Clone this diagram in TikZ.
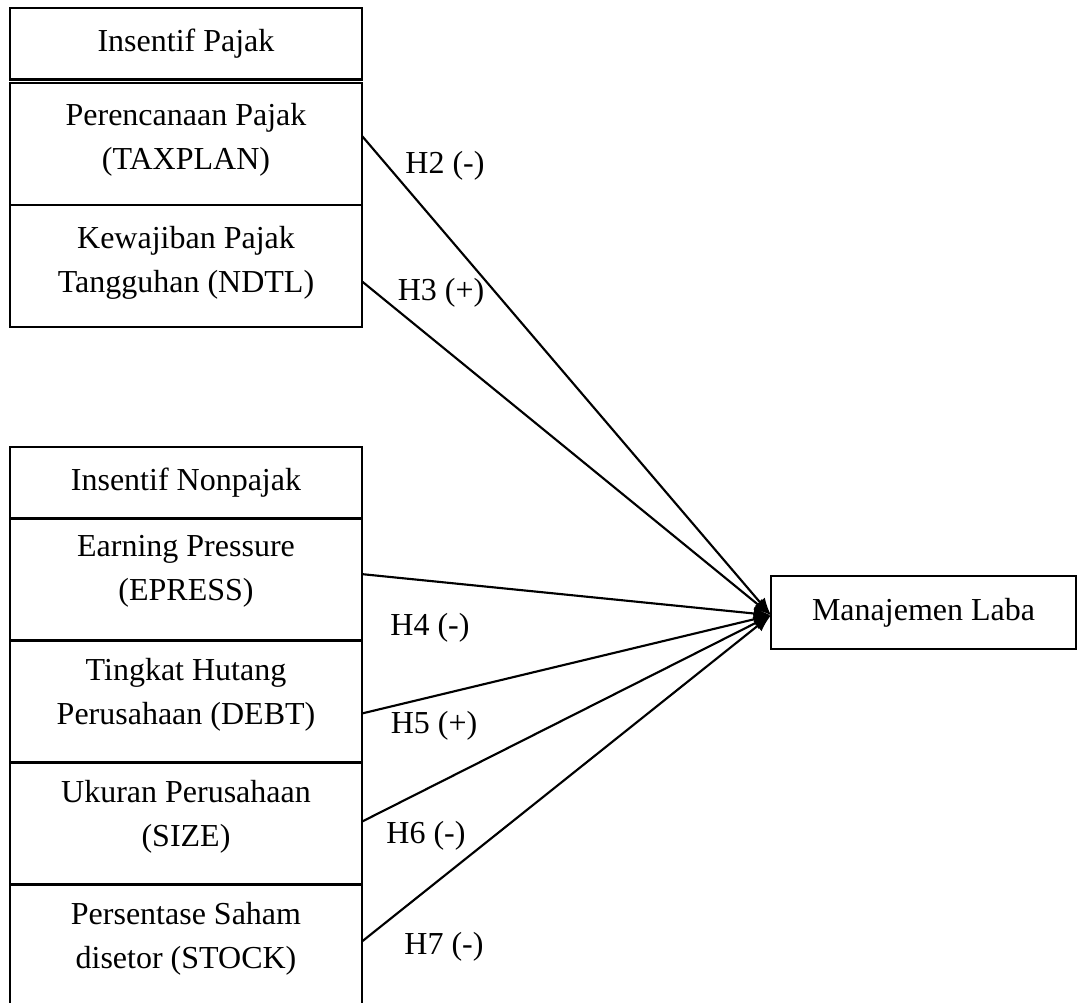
\documentclass[tikz,border=0pt]{standalone}
\usepackage{fontspec}
\setmainfont{Liberation Serif}
\usetikzlibrary{arrows.meta,positioning}

\begin{document}
\begin{tikzpicture}[x=0.375pt,y=-0.375pt,
  cell/.style={draw,line width=0.85pt,minimum width=132pt,minimum height=45.75pt,inner sep=0pt,outer sep=0pt},
  head/.style={cell,minimum height=26.8pt,font=\fontsize{12}{16.5}\selectfont},
  txt/.style={align=center,inner sep=0pt,font=\fontsize{12}{16.5}\selectfont},
  hyp/.style={inner sep=0pt,font=\fontsize{12}{14}\selectfont},
  arr/.style={-{Latex[length=6.5pt,width=5pt]},line width=0.8pt}]
\useasboundingbox (0,0) rectangle (1078,1003);
% insentif pajak
\node[head,anchor=north west] (pajak) at (10,8) {Insentif Pajak};
\node[cell,below=1.3pt of pajak] (taxplan) {};
\node[cell,below=0pt of taxplan] (ndtl) {};
\node[txt,below=7.5pt of taxplan.north] {Perencanaan Pajak\\(TAXPLAN)};
\node[txt,below=7.8pt of ndtl.north] {Kewajiban Pajak\\Tangguhan (NDTL)};
% insentif nonpajak
\node[head,anchor=north west] (nonpajak) at (10,447) {Insentif Nonpajak};
\node[cell,below=0pt of nonpajak] (epress) {};
\node[cell,below=0pt of epress] (debt) {};
\node[cell,below=0pt of debt] (size) {};
\node[cell,below=0pt of size] (stock) {};
\node[txt,below=6.3pt of epress.north] {Earning Pressure\\(EPRESS)};
\node[txt,below=6.3pt of debt.north] {Tingkat Hutang\\Perusahaan (DEBT)};
\node[txt,below=6.3pt of size.north] {Ukuran Perusahaan\\(SIZE)};
\node[txt,below=6.3pt of stock.north] {Persentase Saham\\disetor (STOCK)};
% variabel dependen
\node[cell,anchor=north west,minimum width=114.4pt,minimum height=27.4pt,font=\fontsize{12}{14}\selectfont] (laba) at (771,576) {Manajemen Laba};
\coordinate (tip) at ([yshift=-1pt]laba.west);
% hipotesis
\draw[arr] ([yshift=3pt]taxplan.east) -- (tip);
\draw[arr] ([yshift=-5.8pt]ndtl.east) -- (tip);
\draw[arr] ([yshift=2pt]epress.east) -- (tip);
\draw[arr] ([yshift=-4.5pt]debt.east) -- (tip);
\draw[arr] ([yshift=0.7pt]size.east) -- (tip);
\draw[arr] ([yshift=1.5pt]stock.east) -- (tip);
\node[hyp] (h2) at (445,166) {H2 (-)};
\node[hyp] (h3) at (441,293) {H3 (+)};
\node[hyp] (h4) at (430,628) {H4 (-)};
\node[hyp] (h5) at (434,726) {H5 (+)};
\node[hyp] (h6) at (426,836) {H6 (-)};
\node[hyp] (h7) at (444,947) {H7 (-)};
\end{tikzpicture}
\end{document}
